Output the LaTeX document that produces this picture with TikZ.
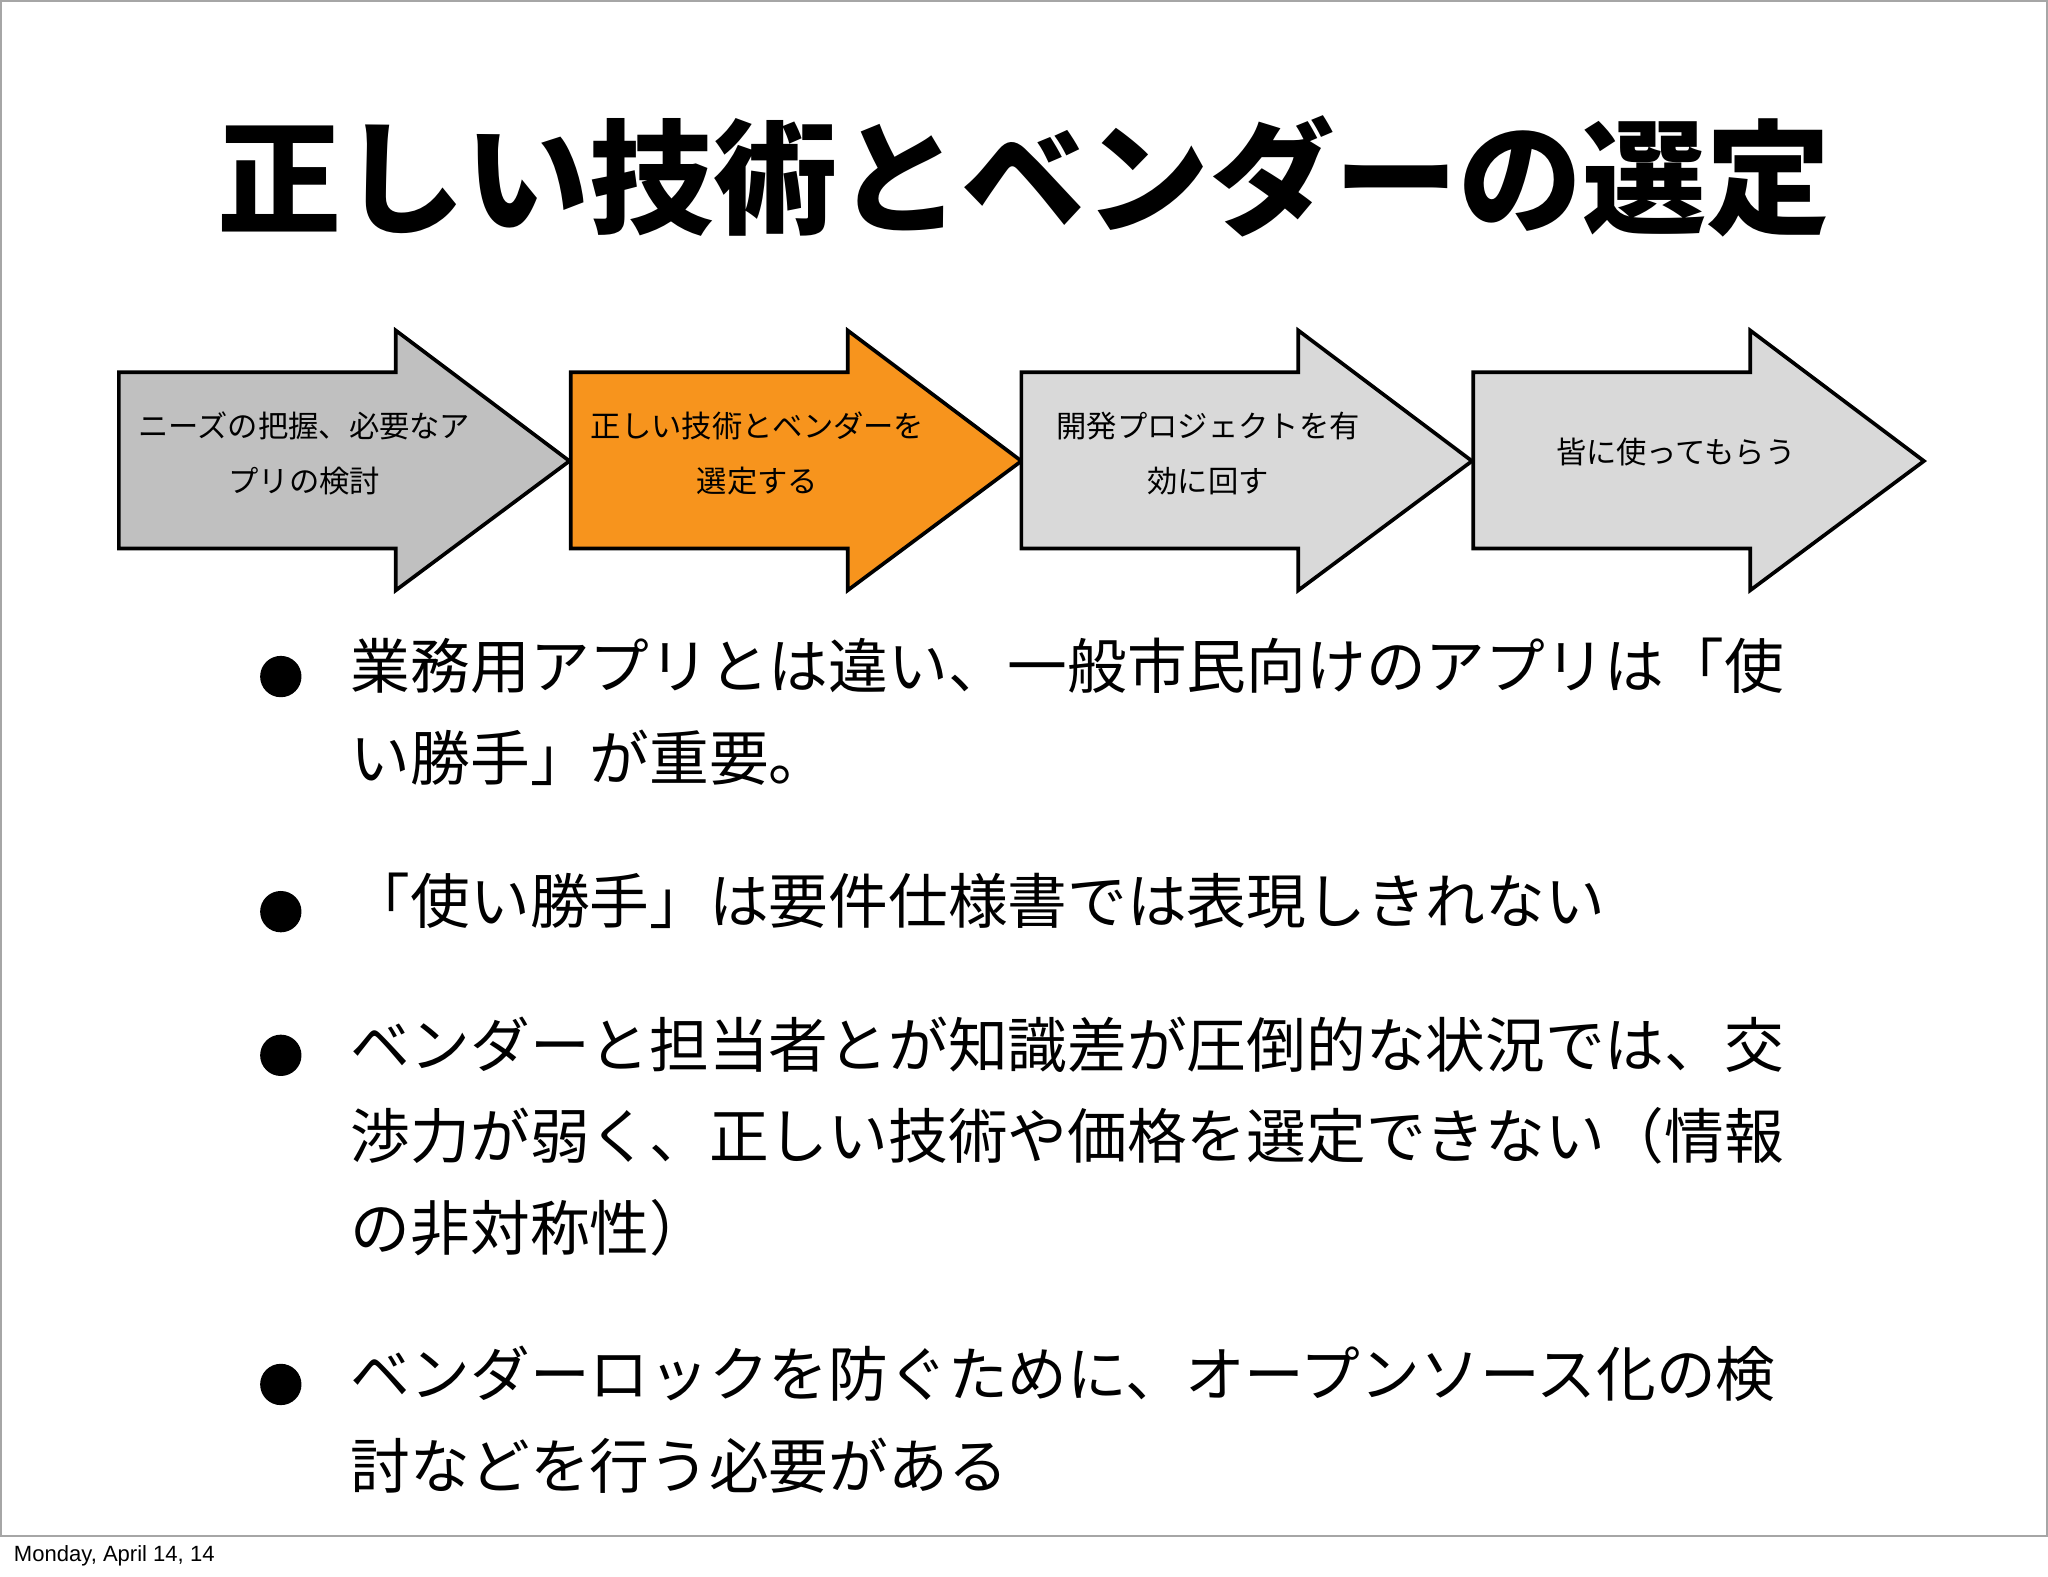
\documentclass[tikz,border=0pt]{standalone}
\usepackage{fontspec}
\setmainfont{Liberation Sans}
\newfontfamily\jp{Noto Sans CJK JP}
\usetikzlibrary{positioning}
\definecolor{stepgray}{HTML}{C0C0C0}
\definecolor{steplight}{HTML}{D9D9D9}
\definecolor{steporange}{HTML}{F7941D}
\begin{document}
\begin{tikzpicture}[x=0.01cm,y=-0.01cm,
  steptext/.style={font=\jp\fontsize{6.6pt}{12pt}\selectfont,align=center},
  bullettext/.style={font=\jp\fontsize{13pt}{20pt}\selectfont,anchor=west,inner sep=0pt},
  dot/.style={circle,fill=black,inner sep=0pt,minimum size=9}]

\useasboundingbox (0,0) rectangle (1568,1207);
\fill[white] (0,0) rectangle (1568,1207);
\draw[gray!70] (0.5,0.5) rectangle (1567.5,1176);

\node[font=\jp\bfseries\fontsize{27pt}{30pt}\selectfont] (title) at (784,135) {正しい技術とベンダーの選定};

\def\stepw{212}
\def\steph{345}

\foreach \x/\col in {91/stepgray,437/steporange,782/steplight,1128/steplight}
    \draw[thick,fill=\col] (\x,285) -- ++(\stepw,0) -- ++(0,-32) -- (\x+\steph,353)
        -- (\x+\stepw,452) -- ++(0,-32) -- (\x,420) -- cycle;

\node[steptext] (s1) at (233,347) {ニーズの把握、必要なア\\プリの検討};
\node[steptext] (s2) at (580,347) {正しい技術とベンダーを\\選定する};
\node[steptext] (s3) at (925,347) {開発プロジェクトを有\\効に回す};
\node[steptext] (s4) at (1283,346) {皆に使ってもらう};

\foreach \y in {518,698,808,1060}
    \node[dot] at (215,\y) {};

\node[bullettext] (b1a) at (268,510) {業務用アプリとは違い、一般市民向けのアプリは「使};
\node[bullettext] (b1b) at (268,580) {い勝手」が重要。};
\node[bullettext] (b2)  at (268,690) {「使い勝手」は要件仕様書では表現しきれない};
\node[bullettext] (b3a) at (268,800) {ベンダーと担当者とが知識差が圧倒的な状況では、交};
\node[bullettext] (b3b) at (268,870) {渉力が弱く、正しい技術や価格を選定できない（情報};
\node[bullettext] (b3c) at (268,940) {の非対称性）};
\node[bullettext] (b4a) at (268,1052) {ベンダーロックを防ぐために、オープンソース化の検};
\node[bullettext] (b4b) at (268,1122) {討などを行う必要がある};

\node[font=\fontsize{4.8pt}{6pt}\selectfont,anchor=west,inner sep=0pt] (date) at (10,1191) {Monday, April 14, 14};

\end{tikzpicture}
\end{document}
